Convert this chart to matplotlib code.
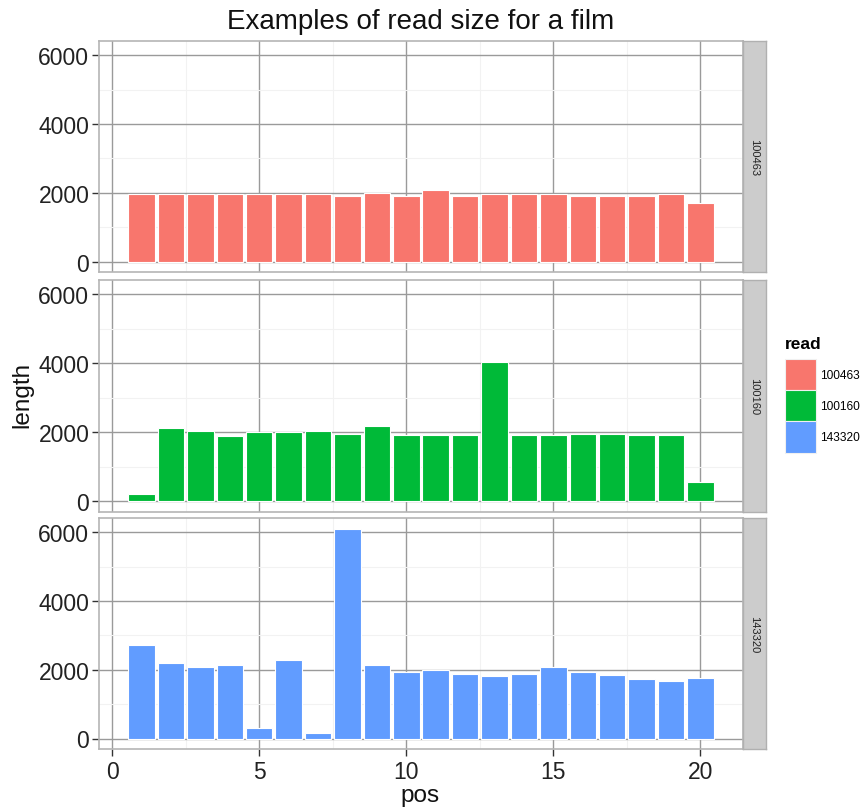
import numpy as np
import matplotlib
matplotlib.use("Agg")
from matplotlib import pyplot as plt
from matplotlib.patches import Patch

plt.rcParams['font.family'] = ['Liberation Sans', 'DejaVu Sans']

pos = list(range(1, 21))
reads = ["100463", "100160", "143320"]
colors = ["#F8766D", "#00BA38", "#619CFF"]

len_100463 = [1950, 1950, 1950, 1950, 1950, 1950, 1950, 1905, 1990, 1905,
              2070, 1905, 1950, 1950, 1950, 1905, 1905, 1905, 1950, 1710]
len_100160 = [230, 2115, 2040, 1885, 2000, 2000, 2040, 1960, 2195, 1915,
              1915, 1915, 4040, 1915, 1915, 1960, 1960, 1915, 1915, 550]
len_143320 = [2730, 2205, 2090, 2130, 320, 2285, 155, 6110, 2130, 1925,
              2005, 1890, 1810, 1890, 2090, 1925, 1850, 1735, 1685, 1760]
lengths = [len_100463, len_100160, len_143320]

W, H = 863, 812
fig = plt.figure(figsize=(W / 100, H / 100), dpi=100)

def fx(px):
    return px / W

def fy(py):
    return 1 - py / H

panels = [(42, 273), (281, 513), (519, 750)]
left, right = 99, 743
ymax = max(max(l) for l in lengths)
ylim = (-0.05 * ymax, 1.05 * ymax)

axes = []
for i, (top, bot) in enumerate(panels):
    ax = fig.add_axes([fx(left), fy(bot), fx(right - left), (bot - top) / H])
    ax.set_facecolor("white")
    ax.set_xlim(-0.445, 21.445)
    ax.set_ylim(*ylim)
    ax.set_xticks([0, 5, 10, 15, 20])
    ax.set_xticks([2.5, 7.5, 12.5, 17.5], minor=True)
    ax.set_yticks([0, 2000, 4000, 6000])
    ax.set_yticks([1000, 3000, 5000], minor=True)
    ax.grid(which="major", color="#9a9a9a", lw=1.0)
    ax.grid(which="minor", color="#f2f2f2", lw=0.8)
    ax.set_axisbelow(True)
    ax.bar(pos, lengths[i], width=0.9, color=colors[i], edgecolor="white", lw=0.8, zorder=2)
    for s in ax.spines.values():
        s.set_color("#b5b5b5")
        s.set_linewidth(1.2)
    ax.tick_params(axis="y", which="major", length=5, width=1, color="#333333",
                   labelsize=16.5, labelcolor="#222222", pad=2)
    ax.tick_params(which="minor", length=0)
    if i < 2:
        ax.tick_params(axis="x", which="major", length=0, labelbottom=False)
    else:
        ax.tick_params(axis="x", which="major", length=5, width=1, color="#333333",
                       labelsize=16.5, labelcolor="#222222", pad=3)
    axes.append(ax)

    # facet strip
    sax = fig.add_axes([fx(743), fy(bot), fx(23), (bot - top) / H])
    sax.set_facecolor("#cccccc")
    sax.set_xticks([])
    sax.set_yticks([])
    for s in sax.spines.values():
        s.set_color("#b0b0b0")
        s.set_linewidth(1)
    sax.text(0.5, 0.5, reads[i], rotation=-90, ha="center", va="center",
             fontsize=8, color="#222222", transform=sax.transAxes)

fig.text(fx(421), fy(22), "Examples of read size for a film", ha="center", va="center",
         fontsize=20, color="#111111")
fig.text(fx(22), fy(395), "length", rotation=90, ha="center", va="center",
         fontsize=17.5, color="#111111")
fig.text(fx(420), fy(796), "pos", ha="center", va="center",
         fontsize=17.5, color="#111111")

handles = [Patch(facecolor=c, edgecolor="#f0f0f0", lw=0.8) for c in colors]
leg = fig.legend(handles, reads, loc="upper left", bbox_to_anchor=(fx(781), fy(333)),
                 frameon=False, fontsize=8.6, title="read",
                 title_fontproperties={"weight": "bold", "size": 12.5},
                 handlelength=2.6, handleheight=3.65, handletextpad=0.35,
                 labelspacing=0.0, alignment="left", borderaxespad=0, borderpad=0.3)
leg._legend_box.sep = 6

fig.savefig("out.png", dpi=100)
